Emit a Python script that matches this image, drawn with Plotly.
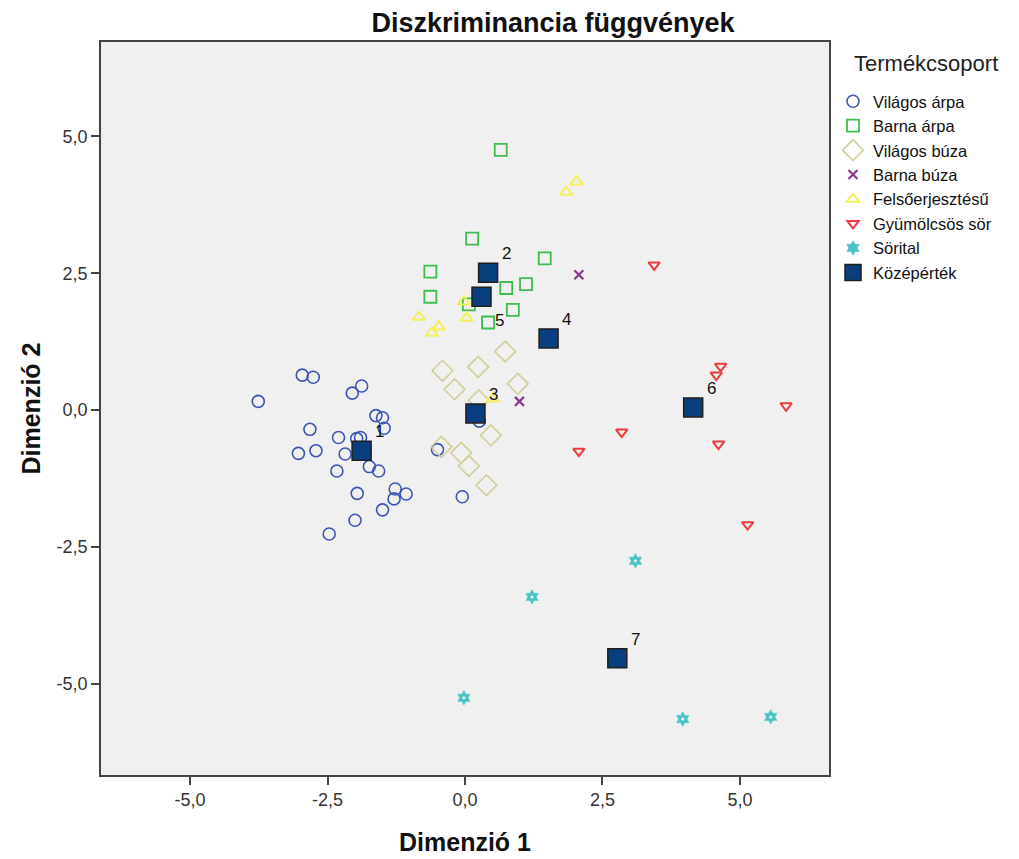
import plotly.graph_objects as go

# ---- data ----
vilagos_arpa_x = [-3.76, -2.96, -2.76, -2.05, -1.88, -1.62, -1.50, -1.47, -2.82, -2.30, -1.97, -1.90, -3.03, -2.71,
                  -2.18, -1.74, -1.57, -2.33, -0.50, -1.96, -1.27, -1.29, -1.07, -1.50, -2.00, -2.47, -0.05, 0.26]
vilagos_arpa_y = [0.16, 0.64, 0.60, 0.31, 0.44, -0.10, -0.14, -0.33, -0.35, -0.50, -0.52, -0.50, -0.79, -0.74,
                  -0.80, -1.03, -1.11, -1.11, -0.72, -1.52, -1.44, -1.62, -1.53, -1.82, -2.01, -2.26, -1.58, -0.20]

barna_arpa_x = [0.65, 0.13, 1.45, -0.63, -0.63, 0.75, 1.11, 0.87, 0.42, 0.07]
barna_arpa_y = [4.75, 3.13, 2.77, 2.53, 2.07, 2.23, 2.30, 1.83, 1.60, 1.93]

vilagos_buza_x = [0.73, -0.41, 0.24, -0.19, 0.96, 0.25, 0.47, -0.43, -0.07, 0.07, 0.39]
vilagos_buza_y = [1.07, 0.72, 0.79, 0.38, 0.48, 0.18, -0.46, -0.67, -0.78, -1.02, -1.37]

barna_buza_x = [2.07, 0.99]
barna_buza_y = [2.47, 0.16]

felso_x = [2.03, 1.84, -0.02, 0.03, -0.84, -0.48, -0.60, 0.51]
felso_y = [4.17, 3.98, 1.98, 1.68, 1.70, 1.52, 1.41, 0.21]

gyumolcs_x = [3.44, 4.65, 4.57, 5.84, 2.85, 2.07, 4.61, 5.14]
gyumolcs_y = [2.65, 0.80, 0.64, 0.08, -0.40, -0.75, -0.62, -2.09]

sorital_x = [3.10, 1.22, -0.02, 3.96, 5.56]
sorital_y = [-2.75, -3.41, -5.25, -5.64, -5.60]

mean_labels = ["1", "2", "3", "4", "5", "6", "7"]
mean_x = [-1.88, 0.42, 0.19, 1.52, 0.30, 4.15, 2.77]
mean_y = [-0.74, 2.51, -0.06, 1.31, 2.07, 0.05, -4.53]

tick_vals = [-5.0, -2.5, 0.0, 2.5, 5.0]
tick_text = ["-5,0", "-2,5", "0,0", "2,5", "5,0"]

# ---- styling ----
FONT = "Liberation Sans, Arial, sans-serif"

fig = go.Figure()

def add(name, xs, ys, symbol, color, size, lw):
    fig.add_trace(go.Scatter(
        x=xs, y=ys, mode="markers", name=name,
        marker=dict(symbol=symbol, size=size, color=color, line=dict(color=color, width=lw)),
        cliponaxis=False,
    ))

add("Világos árpa", vilagos_arpa_x, vilagos_arpa_y, "circle-open", "#3F55B5", 12, 1.6)
add("Barna árpa", barna_arpa_x, barna_arpa_y, "square-open", "#3DBE4E", 12, 1.8)
add("Világos búza", vilagos_buza_x, vilagos_buza_y, "diamond-open", "#D4CE98", 16, 1.6)
add("Barna búza", barna_buza_x, barna_buza_y, "x-thin-open", "#8A3A8E", 9, 2.2)
add("Felsőerjesztésű", felso_x, felso_y, "triangle-up-open", "#F5F05A", 11, 2.0)
add("Gyümölcsös sör", gyumolcs_x, gyumolcs_y, "triangle-down-open", "#F0383F", 10, 2.0)
add("Sörital", sorital_x, sorital_y, "hexagram", "#4AC4C8", 11, 0.5)
# small hole in the centre of the Sörital gear markers
fig.add_trace(go.Scatter(x=sorital_x, y=sorital_y, mode="markers", showlegend=False,
                         marker=dict(symbol="circle", size=3, color="#F0F0F0"), hoverinfo="skip"))

fig.add_trace(go.Scatter(
    x=mean_x, y=mean_y, mode="markers", name="Középérték",
    marker=dict(symbol="square", size=19, color="#0A3F7F", line=dict(color="#1E1E1E", width=1.5)),
))

for lab, mx, my in zip(mean_labels, mean_x, mean_y):
    yshift = -24 if lab == "5" else 19
    fig.add_annotation(x=mx, y=my, xref="x", yref="y", text=lab, showarrow=False,
                       xshift=18, yshift=yshift, font=dict(family=FONT, size=17, color="#111"))

# legend title
fig.add_annotation(x=1.0316, y=0.970, xref="paper", yref="paper", xanchor="left", yanchor="middle",
                   text="Termékcsoport", showarrow=False,
                   font=dict(family=FONT, size=22, color="#222"))

# y-axis title
fig.add_annotation(x=-0.0975, y=0.5, xref="paper", yref="paper", xanchor="center", yanchor="middle",
                   text="<b>Dimenzió 2</b>", textangle=-90, showarrow=False,
                   font=dict(family=FONT, size=25, color="#111"))

W, H = 1011, 851
fig.update_layout(
    width=W, height=H,
    paper_bgcolor="white", plot_bgcolor="#F0F0F0",
    margin=dict(l=93, r=190, t=34, b=84, autoexpand=False),
    font=dict(family=FONT, size=18, color="#222"),
    title=dict(text="<b>Diszkriminancia függvények</b>", x=545 / W, xref="container", xanchor="center",
               y=1 - 15 / H, yref="container", yanchor="middle",
               font=dict(family=FONT, size=27, color="#111")),
    showlegend=True,
    legend=dict(x=1.0055, xanchor="left", y=0.9427, yanchor="top",
                font=dict(family=FONT, size=16.5, color="#111"),
                tracegroupgap=0, itemsizing="trace", bgcolor="rgba(0,0,0,0)"),
)

fig.update_xaxes(range=[-6.62, 6.62], tickvals=tick_vals, ticktext=tick_text, automargin=False,
                 showgrid=False, zeroline=False, showline=True, mirror=True, linecolor="#444", linewidth=1.5,
                 ticks="outside", ticklen=8, tickcolor="#444", tickwidth=1.5,
                 tickfont=dict(family=FONT, size=18, color="#333"),
                 title=dict(text="<b>Dimenzió 1</b>", standoff=24,
                            font=dict(family=FONT, size=25, color="#111")))
fig.update_yaxes(range=[-6.66, 6.72], tickvals=tick_vals, ticktext=tick_text, automargin=False,
                 showgrid=False, zeroline=False, showline=True, mirror=True, linecolor="#444", linewidth=1.5,
                 ticks="outside", ticklen=8, tickcolor="#444", tickwidth=1.5,
                 tickfont=dict(family=FONT, size=18, color="#333"))

fig.write_html("out.html")
